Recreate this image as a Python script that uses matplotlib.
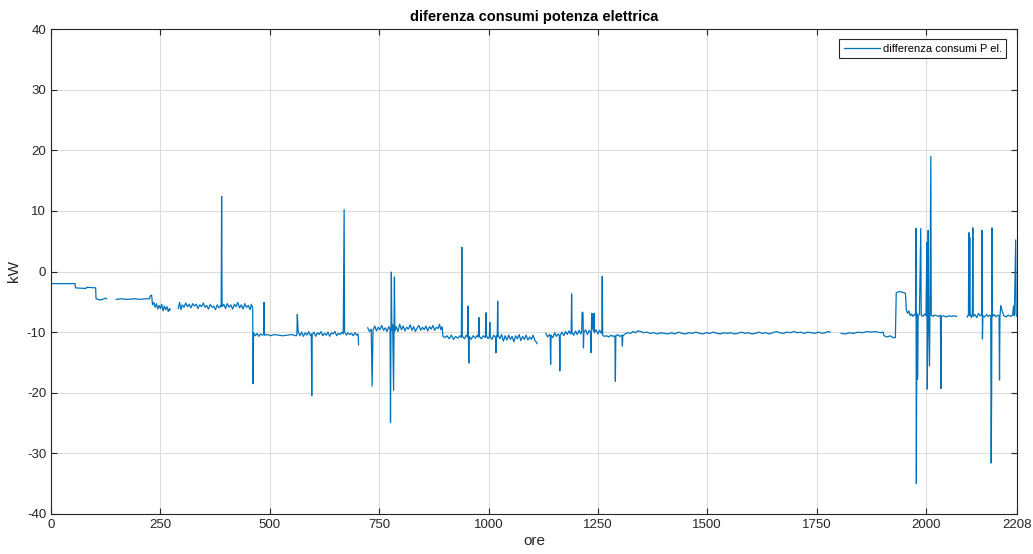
import numpy as np
import matplotlib
matplotlib.use("Agg")
import matplotlib.pyplot as plt

# dati: (ora, differenza kW), tratti separati da buchi
tratto1 = [(0, -2.0), (55, -2.0), (56, -2.7), (80, -2.8), (82, -2.6), (102, -2.7), (103, -4.5),
           (112, -4.7), (118, -4.6), (124, -4.4), (127, -4.5)]

tratto2 = [(149, -4.6), (160, -4.5), (175, -4.6), (190, -4.5), (205, -4.6), (215, -4.5), (225, -4.5),
           (227, -4.0), (230, -3.9), (232, -5.5), (235, -5.1), (238, -5.9), (241, -5.3), (244, -6.2),
           (247, -5.6), (250, -6.1), (253, -5.4), (256, -6.5), (259, -5.7), (262, -6.3), (265, -5.8),
           (268, -6.6), (271, -6.1), (272, -6.4)]

tratto3 = [(291, -6.1), (294, -5.1), (297, -6.3), (300, -5.5), (304, -5.9), (308, -5.2), (312, -5.8),
           (316, -5.4), (320, -6.0), (324, -5.3), (328, -5.7), (332, -5.4), (336, -6.1), (340, -5.5),
           (344, -5.8), (348, -5.2), (352, -5.9), (356, -5.6), (360, -6.2), (364, -5.4), (368, -5.9),
           (372, -5.7), (376, -6.3), (380, -5.5), (384, -6.0), (388, -5.6), (389, -5.7), (390, 12.4),
           (391, -5.8), (395, -5.4), (399, -6.1), (403, -5.3), (407, -5.9), (411, -5.5), (415, -6.2),
           (419, -5.4), (423, -5.8), (427, -5.1), (431, -6.0), (435, -5.5), (439, -6.2), (443, -5.3),
           (447, -5.9), (451, -5.6), (455, -6.3), (458, -5.4), (461, -6.1), (462, -18.5), (463, -10.1),
           (467, -10.6), (471, -10.2), (475, -10.7), (479, -10.3), (483, -10.5), (486, -10.4), (487, -5.1),
           (488, -10.5), (495, -10.4), (502, -10.6), (510, -10.4), (520, -10.5), (530, -10.6), (540, -10.5),
           (550, -10.4), (560, -10.6), (562, -10.5), (563, -7.1), (565, -9.9), (569, -10.6), (573, -10.0),
           (577, -10.7), (581, -10.1), (585, -10.5), (589, -9.9), (593, -10.6), (595, -10.3), (596, -20.5),
           (597, -10.4), (601, -10.0), (605, -10.7), (609, -10.1), (613, -10.4), (617, -9.9), (621, -10.6),
           (625, -10.2), (629, -10.5), (633, -10.0), (637, -10.7), (641, -10.1), (645, -10.3), (649, -9.9),
           (653, -10.6), (657, -10.2), (661, -10.4), (665, -10.0), (668, -10.3), (669, -0.5), (670, 10.2),
           (671, -9.9), (675, -10.5), (679, -10.1), (683, -10.4), (687, -10.2), (691, -10.6), (695, -10.1),
           (699, -10.5), (702, -10.3), (703, -12.1)]

tratto4 = [(724, -9.3), (728, -9.9), (732, -9.5), (734, -18.9), (736, -9.7), (740, -9.0), (744, -9.8),
           (748, -9.2), (752, -9.6), (756, -8.9), (760, -9.7), (764, -9.3), (768, -9.9), (772, -9.1),
           (775, -9.5), (776, -24.9), (777, -9.3), (778, -0.1), (779, -9.7), (781, -8.8), (783, -19.6),
           (784, -9.3), (785, -0.9), (786, -9.8), (789, -9.1), (793, -9.9), (797, -8.7), (801, -9.6),
           (805, -9.0), (809, -9.8), (813, -9.2), (817, -9.5), (821, -8.8), (825, -9.7), (829, -9.1),
           (833, -9.9), (837, -9.3), (841, -8.9), (845, -9.7), (849, -9.2), (853, -9.6), (857, -9.0),
           (861, -9.8), (865, -9.1), (869, -9.5), (873, -8.9), (877, -9.7), (881, -9.2), (885, -9.4),
           (888, -8.7), (891, -9.6), (894, -9.1), (896, -10.7), (900, -10.9), (905, -10.6), (910, -11.1),
           (915, -10.5), (920, -11.2), (925, -10.7), (930, -11.0), (935, -10.6), (938, -10.9), (939, 4.0),
           (940, -10.6), (945, -11.1), (949, -10.5), (952, -10.8), (953, -5.7), (954, -10.5), (955, -15.1),
           (956, -10.7), (960, -11.2), (965, -10.6), (970, -11.0), (975, -10.5), (977, -10.8), (978, -7.6),
           (979, -10.7), (984, -11.1), (988, -10.6), (993, -10.9), (994, -6.8), (995, -10.5), (999, -11.1),
           (1002, -10.7), (1003, -8.4), (1004, -10.8), (1008, -11.2), (1012, -10.5), (1016, -10.9),
           (1017, -13.4), (1018, -10.6), (1020, -10.8), (1021, -4.9), (1022, -10.5), (1026, -11.1),
           (1030, -10.4), (1034, -11.5), (1038, -10.6), (1042, -11.3), (1046, -10.5), (1050, -11.2),
           (1054, -10.7), (1058, -11.6), (1062, -10.6), (1066, -11.1), (1070, -10.4), (1074, -11.4),
           (1078, -10.7), (1082, -11.2), (1086, -10.5), (1090, -11.3), (1094, -10.8), (1098, -11.2),
           (1102, -10.5), (1106, -11.4), (1110, -11.7), (1111, -11.9)]

tratto5 = [(1131, -10.2), (1135, -10.8), (1139, -10.4), (1141, -10.6), (1142, -15.3), (1143, -10.5),
           (1147, -10.9), (1151, -10.1), (1155, -10.7), (1159, -10.3), (1162, -10.6), (1163, -16.4),
           (1164, -10.5), (1168, -10.0), (1172, -10.6), (1176, -9.9), (1180, -10.4), (1184, -9.8),
           (1188, -10.3), (1189, -10.0), (1190, -3.7), (1191, -10.1), (1195, -10.5), (1199, -9.8),
           (1203, -10.4), (1207, -9.7), (1211, -10.3), (1213, -9.8), (1214, -6.7), (1216, -6.8),
           (1217, -12.6), (1218, -10.1), (1222, -9.6), (1226, -10.4), (1230, -9.7), (1233, -10.1),
           (1234, -13.4), (1235, -9.9), (1236, -6.9), (1237, -9.5), (1239, -7.0), (1240, -9.8),
           (1241, -6.9), (1242, -10.1), (1246, -9.6), (1250, -10.3), (1254, -9.7), (1258, -10.2),
           (1259, -9.9), (1260, -0.8), (1261, -10.5), (1265, -10.7), (1270, -10.6), (1275, -10.8),
           (1280, -10.5), (1284, -10.7), (1289, -10.6), (1290, -18.1), (1291, -10.7), (1295, -10.4),
           (1300, -10.7), (1305, -10.5), (1306, -12.3), (1307, -10.6), (1312, -10.3), (1318, -10.1),
           (1325, -10.2), (1330, -9.9), (1336, -10.1), (1342, -9.8), (1348, -9.9), (1355, -10.1),
           (1362, -10.0), (1370, -10.2), (1378, -10.1), (1386, -10.3), (1394, -10.1), (1402, -10.2),
           (1410, -10.3), (1418, -10.1), (1426, -10.3), (1434, -10.0), (1442, -10.2), (1450, -10.3),
           (1458, -10.1), (1466, -10.2), (1474, -10.0), (1482, -10.2), (1490, -10.3), (1498, -10.1),
           (1506, -10.2), (1514, -10.0), (1522, -10.2), (1530, -10.3), (1538, -10.1), (1546, -10.2),
           (1554, -10.1), (1562, -10.3), (1570, -10.2), (1578, -10.0), (1586, -10.2), (1594, -10.1),
           (1602, -10.3), (1610, -10.2), (1618, -10.0), (1626, -10.2), (1634, -10.1), (1642, -10.3),
           (1650, -10.1), (1658, -9.9), (1666, -10.1), (1674, -10.2), (1682, -10.0), (1690, -10.1),
           (1698, -9.9), (1706, -10.1), (1714, -10.0), (1722, -10.2), (1730, -10.0), (1738, -10.1),
           (1746, -10.2), (1754, -10.0), (1762, -10.2), (1770, -10.1), (1776, -9.9), (1781, -10.0)]

tratto6 = [(1806, -10.2), (1815, -10.3), (1825, -10.1), (1835, -10.2), (1845, -10.0), (1855, -10.1),
           (1865, -9.9), (1875, -10.0), (1885, -9.9), (1895, -10.1), (1902, -10.0), (1904, -10.6),
           (1912, -10.8), (1918, -10.6), (1924, -10.9), (1930, -10.9), (1932, -3.5), (1938, -3.3),
           (1944, -3.4), (1950, -3.5), (1953, -3.6), (1955, -6.4), (1958, -6.9), (1961, -6.5),
           (1964, -7.3), (1967, -7.0), (1970, -7.4), (1973, -7.1), (1976, -7.2), (1977, 7.1),
           (1978, -35.0), (1979, -6.9), (1981, -17.8), (1982, -7.3), (1985, -7.1), (1988, 7.1),
           (1989, -7.2), (1993, -7.4), (1997, -7.0), (2000, -7.3), (2002, 4.8), (2003, -19.4),
           (2004, -6.8), (2005, 6.8), (2006, -7.1), (2008, -15.6), (2009, -6.5), (2011, 19.0),
           (2012, -7.2), (2016, -7.4), (2020, -7.2), (2025, -7.3), (2030, -7.4), (2033, -7.2),
           (2034, -19.3), (2035, -7.4), (2040, -7.3), (2046, -7.5), (2052, -7.3), (2058, -7.4),
           (2064, -7.3), (2070, -7.4)]

tratto7 = [(2094, -7.5), (2097, -7.1), (2098, 6.4), (2099, -7.3), (2100, 5.6), (2101, -7.2),
           (2104, -7.6), (2106, -6.8), (2107, 7.2), (2108, -7.4), (2112, -7.1), (2116, -7.6),
           (2120, -6.9), (2124, -7.3), (2127, -7.2), (2128, 6.8), (2129, -11.1), (2130, -7.3),
           (2134, -7.5), (2138, -7.1), (2142, -7.4), (2146, -7.2), (2148, -7.3), (2149, -31.6),
           (2150, -20.5), (2151, 7.2), (2152, -7.4), (2156, -7.1), (2160, -7.5), (2164, -7.2),
           (2167, -7.3), (2168, -17.9), (2169, -7.4), (2171, -5.6), (2174, -6.5), (2178, -7.3),
           (2183, -7.5), (2188, -7.2), (2193, -7.4), (2198, -7.2), (2200, -5.7), (2202, -7.3),
           (2205, 5.2), (2206, -7.1), (2208, -7.4)]

tratti = [tratto1, tratto2, tratto3, tratto4, tratto5, tratto6, tratto7]

# unisco i tratti con NaN in mezzo (buchi come in MATLAB)
ore = []
kw = []
for t in tratti:
    for o, v in t:
        ore.append(o)
        kw.append(v)
    ore.append(np.nan)
    kw.append(np.nan)

plt.rcParams['font.family'] = ['Liberation Sans', 'DejaVu Sans']
plt.rcParams['axes.unicode_minus'] = False

fig = plt.figure(figsize=(10.33, 5.54), dpi=100)
ax = fig.add_axes([51 / 1033, 40 / 554, 966 / 1033, 485 / 554])

ax.plot(ore, kw, color='#0072BD', lw=0.9, label='differenza consumi P el.')

ax.set_xlim(0, 2208)
ax.set_ylim(-40, 40)
ax.set_xticks([0, 250, 500, 750, 1000, 1250, 1500, 1750, 2000, 2208])
ax.set_yticks(range(-40, 41, 10))
ax.grid(True, color='#dcdcdc', lw=0.8)
ax.set_axisbelow(True)
ax.tick_params(direction='in', top=True, right=True, length=4, width=0.8,
               color='#262626', labelcolor='#262626', labelsize=9.5)
for s in ax.spines.values():
    s.set_color('#262626')
    s.set_linewidth(0.8)

ax.set_title('diferenza consumi potenza elettrica', fontsize=10.5, fontweight='bold', pad=6)
ax.set_xlabel('ore', fontsize=11, color='#262626', labelpad=2)
ax.set_ylabel('kW', fontsize=11, color='#262626', labelpad=4)

leg = ax.legend(loc='upper right', fontsize=8, fancybox=False, framealpha=1,
                edgecolor='#262626', handlelength=3.3, handletextpad=0.2, borderpad=0.4,
                borderaxespad=0, bbox_to_anchor=(0.9886, 0.979))
leg.get_frame().set_linewidth(0.8)

fig.savefig('out.png', dpi=100)
